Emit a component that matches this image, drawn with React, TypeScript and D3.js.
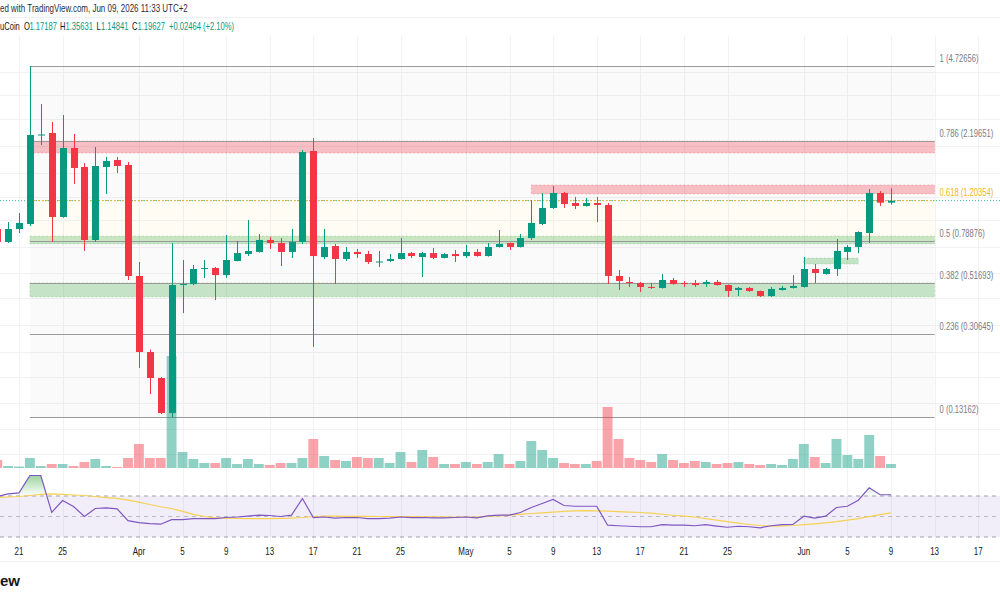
import React from "react";
import * as d3 from "d3";

const W = 1000;
const H = 600;

// daily candles, Mar 19 .. Jun 9
const days = d3.utcDay.range(new Date(Date.UTC(2026, 2, 19)), new Date(Date.UTC(2026, 5, 10)));

const opens = [
  0.896, 0.785, 0.896, 0.943, 2.338, 2.386, 1.013, 2.048, 1.687, 0.801, 1.687, 1.812, 1.722,
  0.5547, 0.2554, 0.1959, 0.137, 0.506, 0.511, 0.596, 0.602, 0.56, 0.6465, 0.694, 0.709, 0.801, 0.777, 0.709, 0.785, 1.986,
  0.673, 0.753, 0.66, 0.709, 0.694, 0.64, 0.6465, 0.66, 0.701, 0.673, 0.701, 0.667, 0.694,
  0.68, 0.709, 0.68, 0.746, 0.777, 0.746, 0.817, 0.943, 1.11, 1.294, 1.168, 1.133, 1.168, 1.145, 0.555, 0.522,
  0.5165, 0.496, 0.491, 0.5325, 0.5165, 0.5165, 0.511, 0.522, 0.506, 0.481, 0.491, 0.476, 0.452, 0.481, 0.491,
  0.496, 0.596, 0.566, 0.596, 0.709, 0.746, 0.86, 1.294, 1.17187,
];
const highs = [
  0.924, 0.962, 1.055, 4.72656, 3.207, 2.669, 2.867, 2.362, 1.757, 2.069, 1.868, 1.868, 1.775,
  0.64, 0.262, 0.198, 0.777, 0.653, 0.621, 0.653, 0.608, 0.843, 0.793, 0.982, 0.851, 0.826, 0.817, 0.896, 2.006, 2.267,
  0.896, 0.769, 0.746, 0.731, 0.716, 0.716, 0.694, 0.817, 0.709, 0.709, 0.738, 0.701, 0.723,
  0.761, 0.731, 0.777, 0.887, 0.78, 0.851, 1.204, 1.294, 1.389, 1.307, 1.242, 1.229, 1.242, 1.168, 0.59, 0.549,
  0.522, 0.5165, 0.566, 0.5435, 0.527, 0.5325, 0.5325, 0.5325, 0.509, 0.496, 0.496, 0.478, 0.496, 0.501, 0.56,
  0.673, 0.627, 0.602, 0.809, 0.761, 0.875, 1.347, 1.32, 1.35631,
];
const lows = [
  0.761, 0.777, 0.86, 0.924, 2.111, 0.785, 1.005, 1.418, 0.716, 0.785, 1.281, 1.587, 0.5325,
  0.217, 0.1664, 0.1355, 0.13162, 0.38, 0.505, 0.5435, 0.434, 0.5435, 0.644, 0.68, 0.705, 0.731, 0.614, 0.667, 0.769, 0.269,
  0.66, 0.511, 0.6465, 0.667, 0.627, 0.608, 0.64, 0.655, 0.667, 0.549, 0.66, 0.664, 0.64,
  0.667, 0.676, 0.676, 0.742, 0.723, 0.742, 0.801, 0.933, 1.1, 1.11, 1.099, 1.125, 0.962, 0.511, 0.481, 0.496,
  0.471, 0.486, 0.488, 0.508, 0.496, 0.496, 0.496, 0.503, 0.448, 0.452, 0.472, 0.448, 0.448, 0.478, 0.488,
  0.493, 0.5165, 0.562, 0.555, 0.653, 0.701, 0.777, 1.133, 1.14841,
];
const closes = [
  0.785, 0.896, 0.953, 2.338, 2.35, 1.013, 2.048, 1.67, 0.801, 1.704, 1.794, 1.704, 0.5547,
  0.2554, 0.1959, 0.137, 0.506, 0.511, 0.596, 0.602, 0.56, 0.653, 0.701, 0.716, 0.801, 0.777, 0.709, 0.785, 1.966, 0.68,
  0.746, 0.66, 0.709, 0.694, 0.64, 0.643, 0.66, 0.701, 0.68, 0.701, 0.667, 0.694, 0.68,
  0.709, 0.68, 0.746, 0.769, 0.746, 0.817, 0.953, 1.11, 1.294, 1.156, 1.133, 1.168, 1.145, 0.555, 0.527, 0.5165,
  0.496, 0.491, 0.5325, 0.511, 0.511, 0.506, 0.522, 0.506, 0.476, 0.491, 0.476, 0.452, 0.486, 0.491, 0.501,
  0.596, 0.572, 0.596, 0.716, 0.746, 0.869, 1.294, 1.172, 1.19627,
];
const volumes = [
  8, 2, 1.5, 10, 2, 4, 4, 2, 6, 9, 2, 1, 10,
  24, 10, 10, 112, 16, 9, 5, 5, 10, 4, 9, 4, 3, 5, 5, 10, 29,
  12, 8, 7, 11, 10, 10, 5, 16, 6, 18, 11, 4, 4,
  6, 4, 6, 14, 4, 7, 27, 18, 10, 5, 4, 4, 7, 61, 29, 10,
  8, 6, 14, 8, 5, 7, 6, 4, 5, 6, 4, 3, 4, 3, 9,
  24, 11, 5, 29, 13, 9, 33, 12, 4,
];
const rsi = [
  69.5, 72, 73, 90, 90, 54, 65.6, 59.8, 50, 57.8, 58.5, 57.5, 46,
  44, 43, 42.5, 47, 47, 48, 48, 48, 49, 49.5, 50.3, 51.3, 51, 50, 51.3, 67.5, 49,
  49.5, 48.5, 49, 49, 48, 48, 48.5, 49.5, 49, 49, 48.7, 48.7, 49,
  49.5, 48.7, 50.6, 51.3, 51.3, 53.9, 58.8, 62.7, 66.6, 60.7, 60, 60, 60, 41.5, 41, 40.5,
  40, 40, 42, 41.5, 41.5, 41, 42, 40.7, 39.5, 40.5, 40, 39, 41, 42, 42.3,
  50.3, 48.5, 50.3, 58.8, 60, 65.9, 78, 71.2, 71.2,
];
const rsiMa = [
  68.5, 69, 69.5, 70.5, 71.5, 72, 71.5, 71, 70.5, 69.5, 68.5, 67.6, 66,
  64, 61.7, 59.5, 57.8, 55, 52, 50, 48.7, 48.4, 48.2, 48, 48, 48, 48.2, 48.4, 49, 50,
  50.3, 50.3, 50.2, 50.2, 50.1, 50, 50, 49.9, 49.8, 49.7, 49.6, 49.6, 49.5,
  49.5, 49.6, 50, 50.5, 51.3, 52, 52.9, 53.6, 54.3, 55, 55.5, 55.8, 55.5, 55.2, 54.8, 54.3,
  53.9, 53.2, 52.2, 51.2, 50.3, 49.5, 48, 46.5, 45, 43.5, 42.2, 41.2, 40.5, 40.8, 41.2,
  42, 42.8, 43.8, 45, 46.5, 48, 49.8, 51.8, 53.6,
];

const tickDates = [
  "2026-03-21", "2026-03-25", "2026-04-01", "2026-04-05", "2026-04-09", "2026-04-13", "2026-04-17",
  "2026-04-21", "2026-04-25", "2026-05-01", "2026-05-05", "2026-05-09", "2026-05-13", "2026-05-17",
  "2026-05-21", "2026-05-25", "2026-06-01", "2026-06-05", "2026-06-09", "2026-06-13", "2026-06-17",
];
const tickLabels = ["21", "25", "Apr", "5", "9", "13", "17", "21", "25", "May", "5", "9", "13", "17", "21", "25", "Jun", "5", "9", "13", "17"];

const gridPrices = [4.45, 3.51, 2.75, 2.09, 1.59, 1.24, 0.98, 0.745, 0.572, 0.443, 0.336, 0.255, 0.198, 0.152, 0.117, 0.09];

const fibLevels = ["1", "0.786", "0.618", "0.5", "0.382", "0.236", "0"];
const fibPrices = [4.72656, 2.19651, 1.20354, 0.78876, 0.51693, 0.30645, 0.13162];
const fibStart = "2026-03-22";
const fibEnd = "2026-06-13";

const zoneKinds = ["supply", "supply", "demand", "demand", "demand"];
const zoneFrom = ["2026-03-22", "2026-05-07", "2026-03-22", "2026-03-22", "2026-06-01"];
const zoneTo = ["2026-06-13", "2026-06-13", "2026-06-13", "2026-06-13", "2026-06-06"];
const zoneLow = [1.945, 1.281, 0.769, 0.448, 0.627];
const zoneHigh = [2.1965, 1.404, 0.834, 0.5169, 0.6665];

const lastPrice = 1.19627;

const UP = "#089981";
const DOWN = "#f23645";
const FONT = "'Liberation Sans', Arial, sans-serif";

const parse = d3.utcParse("%Y-%m-%d");

export default function App() {
  const x = d3.scaleUtc()
    .domain([parse("2026-03-21")!, parse("2026-06-09")!])
    .range([19, 891]);
  const y = d3.scaleLog().domain([0.13162, 4.72656]).range([417, 66]);
  const vy = d3.scaleLinear().domain([0, 112]).range([468, 356]);
  const ry = d3.scaleLinear().domain([30, 70]).range([537, 496]);

  const step = x(days[1]) - x(days[0]);
  const bodyW = 7;

  const fx0 = x(parse(fibStart)!);
  const fx1 = x(parse(fibEnd)!);

  const rsiLine = d3.line<number>().x((_, i) => x(days[i])).y(d => ry(d));
  const rsiArea = d3.area<number>().x((_, i) => x(days[i])).y0(ry(70)).y1(d => ry(d));

  const condensed = (px: number, py: number) => `translate(${px},${py}) scale(0.76,1)`;

  return (
    <svg width={W} height={H} style={{ position: "absolute", left: 0, top: 0, display: "block" }} fontFamily={FONT}>
      <defs>
        <linearGradient id="ob" gradientUnits="userSpaceOnUse" x1="0" x2="0" y1={ry(92)} y2={ry(70)}>
          <stop offset="0" stopColor="#4caf50" stopOpacity={0.6} />
          <stop offset="1" stopColor="#4caf50" stopOpacity={0} />
        </linearGradient>
        <clipPath id="above70">
          <rect x={0} y={440} width={W} height={ry(70) - 440} />
        </clipPath>
      </defs>
      <rect width={W} height={H} fill="#ffffff" />

      {/* header */}
      <line x1={0} x2={W} y1={17.5} y2={17.5} stroke="#eef0f3" />
      <text transform={condensed(0, 12)} fontSize={10.5} fill="#2a2e39">
        ed with TradingView.com, Jun 09, 2026 11:33 UTC+2
      </text>
      {[
        ["uCoin", 0, "#131722"], ["O", 24, "#131722"], ["1.17187", 29.5, UP],
        ["H", 60, "#131722"], ["1.35631", 65.5, UP], ["L", 96.5, "#131722"], ["1.14841", 101, UP],
        ["C", 132, "#131722"], ["1.19627", 137.5, UP], ["+0.02464 (+2.10%)", 169, UP],
      ].map(([t, px, c], i) => (
        <text key={i} transform={condensed(px as number, 30)} fontSize={10} fill={c as string}>{t}</text>
      ))}

      {/* grid */}
      {gridPrices.map((p, i) => (
        <line key={"h" + i} x1={0} x2={W} y1={Math.round(y(p)) + 0.5} y2={Math.round(y(p)) + 0.5} stroke="#f1f2f4" />
      ))}
      {tickDates.map((d, i) => {
        const tx = Math.round(x(parse(d)!)) + 0.5;
        return <line key={"v" + i} x1={tx} x2={tx} y1={36} y2={542} stroke="#f1f2f4" />;
      })}

      {/* fib backgrounds */}
      {fibPrices.slice(0, -1).map((p, i) => (
        <rect key={"fb" + i} x={fx0} width={fx1 - fx0} y={y(p)} height={y(fibPrices[i + 1]) - y(p)}
          fill={fibLevels[i] === "0.618" ? "rgba(255,196,60,0.06)" : "rgba(120,120,120,0.04)"} />
      ))}

      {/* zones */}
      {zoneKinds.map((k, i) => {
        const zx0 = x(parse(zoneFrom[i])!);
        const zx1 = x(parse(zoneTo[i])!);
        const col = k === "supply" ? "242,54,69" : "76,175,80";
        return (
          <rect key={"z" + i} x={zx0} width={zx1 - zx0} y={y(zoneHigh[i])} height={y(zoneLow[i]) - y(zoneHigh[i])}
            fill={`rgba(${col},0.3)`} stroke={`rgba(${col},0.25)`} strokeDasharray="2 2" />
        );
      })}

      {/* last price line */}
      <line x1={0} x2={W} y1={y(lastPrice)} y2={y(lastPrice)} stroke={UP} strokeDasharray="1 2" strokeOpacity={0.8} />

      {/* fib lines + labels */}
      {fibPrices.map((p, i) => {
        const ly = Math.round(y(p)) + 0.5;
        const gold = fibLevels[i] === "0.618";
        return (
          <g key={"fl" + i}>
            <line x1={fx0} x2={fx1} y1={ly} y2={ly} stroke={gold ? "#e2b93b" : "#9a9a9a"}
              strokeDasharray={gold ? "2 2" : undefined} strokeWidth={gold ? 1.2 : 1} />
            <text transform={condensed(fx1 + 5, ly - 5)} fontSize={10} fill={gold ? "#f5b324" : "#787b86"}>
              {`${fibLevels[i]} (${p.toFixed(5)})`}
            </text>
          </g>
        );
      })}

      {/* volume */}
      {days.map((d, i) => (
        <rect key={"vol" + i} x={x(d) - step / 2 + 0.5} width={step - 1} y={vy(volumes[i])} height={vy(0) - vy(volumes[i])}
          fill={closes[i] >= opens[i] ? UP : DOWN} fillOpacity={0.45} />
      ))}

      {/* candles */}
      {days.map((d, i) => {
        const cx = Math.round(x(d)) + 0.5;
        const up = closes[i] >= opens[i];
        const col = up ? UP : DOWN;
        const top = y(Math.max(opens[i], closes[i]));
        const bot = y(Math.min(opens[i], closes[i]));
        return (
          <g key={"c" + i}>
            <line x1={cx} x2={cx} y1={y(highs[i])} y2={y(lows[i])} stroke={col} />
            <rect x={cx - bodyW / 2} width={bodyW} y={top} height={Math.max(1, bot - top)} fill={col} />
          </g>
        );
      })}

      {/* RSI pane */}
      <rect x={0} width={W} y={ry(70)} height={ry(30) - ry(70)} fill="rgba(126,87,194,0.1)" />
      {[70, 50, 30].map(v => (
        <line key={"r" + v} x1={0} x2={W} y1={ry(v)} y2={ry(v)} stroke="#9598a1" strokeDasharray="4 4" strokeOpacity={v === 50 ? 0.6 : 0.9} />
      ))}
      <path d={rsiArea(rsi) || ""} fill="url(#ob)" clipPath="url(#above70)" />
      <path d={rsiLine(rsiMa) || ""} fill="none" stroke="#f7d154" strokeWidth={1.2} />
      <path d={rsiLine(rsi) || ""} fill="none" stroke="#7e57c2" strokeWidth={1.2} />

      {/* time axis */}
      {tickDates.map((d, i) => (
        <text key={"t" + i} transform={condensed(x(parse(d)!), 555)} textAnchor="middle" fontSize={10.5} fill="#131722">
          {tickLabels[i]}
        </text>
      ))}
      <line x1={0} x2={W} y1={561.5} y2={561.5} stroke="#eef0f3" />
      <text x={0} y={586} fontSize={15} fontWeight="bold" fill="#131722">ew</text>
    </svg>
  );
}
